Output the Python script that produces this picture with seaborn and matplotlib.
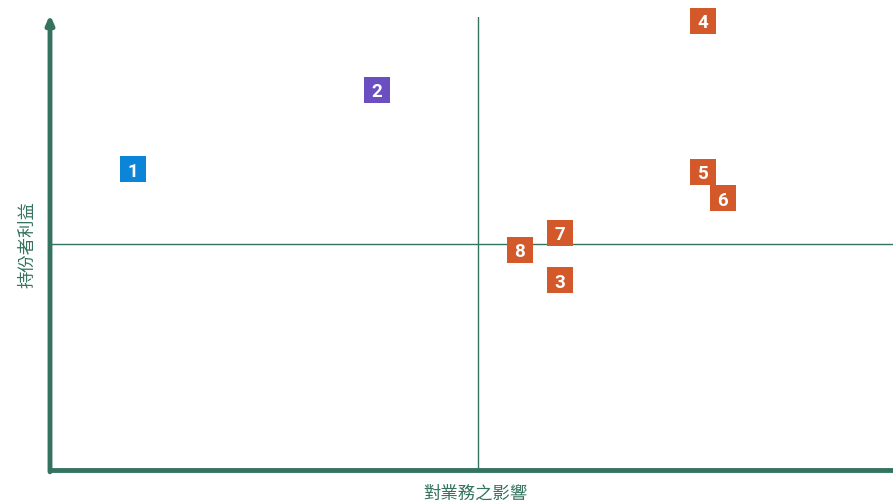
import numpy as np
import pandas as pd
import matplotlib.pyplot as plt
import seaborn as sns

labels = ['1', '2', '3', '4', '5', '6', '7', '8']
impact = [0.97, 3.82, 5.96, 7.63, 7.63, 7.86, 5.96, 5.49]
interest = [6.64, 8.39, 4.19, 9.91, 6.58, 6.00, 5.23, 4.86]
group = ['a', 'b', 'c', 'c', 'c', 'c', 'c', 'c']
palette = {'a': '#0a85d8', 'b': '#6b4fc1', 'c': '#d3582a'}

df = pd.DataFrame({'label': labels, 'x': impact, 'y': interest, 'g': group})

sns.set_style('white')
plt.rcParams['font.family'] = ['Noto Sans CJK TC', 'DejaVu Sans']

teal = '#34735f'
fig = plt.figure(figsize=(8.93, 5.02), dpi=100)
# axes runs a bit past the right edge like the reference
ax = fig.add_axes([50 / 893, 31 / 502, 856 / 893, 453 / 502])
ax.set_xlim(0, 10)
ax.set_ylim(0, 10)

ax.axvline(5, color=teal, lw=1)
ax.axhline(5, color=teal, lw=1)

sns.scatterplot(data=df, x='x', y='y', hue='g', palette=palette, marker='s',
                s=340, edgecolor='none', legend=False, ax=ax, zorder=3,
                clip_on=False)
for _, r in df.iterrows():
    ax.text(r['x'], r['y'] - 0.03, r['label'], color='white', fontsize=13.5,
            fontweight='bold', ha='center', va='center', zorder=4,
            family=['Roboto', 'DejaVu Sans'], clip_on=False)

for s in ['top', 'right', 'left']:
    ax.spines[s].set_visible(False)
ax.spines['bottom'].set_color(teal)
ax.spines['bottom'].set_linewidth(3.5)
ax.annotate('', xy=(0, 10.05), xytext=(0, -0.04), xycoords='data',
            arrowprops=dict(arrowstyle='-|>,head_width=0.22,head_length=0.5',
                            color=teal, lw=3.5, shrinkA=0, shrinkB=0),
            annotation_clip=False)
ax.set_xticks([])
ax.set_yticks([])
ax.set_xlabel('')
ax.set_ylabel('')

fig.text(475 / 893, 1 - 494 / 502, '對業務之影響', color=teal, fontsize=12.5,
         ha='center', va='center')
fig.text(27 / 893, 1 - 245 / 502, '持份者利益', color=teal, fontsize=12.5,
         ha='center', va='center', rotation=90)

fig.savefig('out.png', dpi=100)
